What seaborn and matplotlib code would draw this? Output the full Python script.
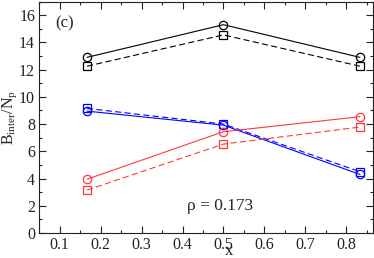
import numpy as np
import pandas as pd
import seaborn as sns
import matplotlib.pyplot as plt
from matplotlib.ticker import MultipleLocator

x = [1/6, 0.5, 5/6]
black_circ = [12.9, 15.3, 12.9]
black_sq = [12.25, 14.55, 12.25]
blue_circ = [8.95, 7.92, 4.3]
blue_sq = [9.15, 8.0, 4.5]
red_circ = [3.95, 7.44, 8.54]
red_sq = [3.15, 6.53, 7.78]

series = [
    (black_circ, 'black', 'o', '-'),
    (black_sq, 'black', 's', '--'),
    (blue_circ, 'blue', 'o', '-'),
    (blue_sq, 'blue', 's', '--'),
    (red_circ, '#ff3a3a', 'o', '-'),
    (red_sq, '#ff3a3a', 's', '--'),
]

sns.set_style('ticks')
plt.rcParams['font.family'] = ['Liberation Serif', 'DejaVu Serif']
plt.rcParams['mathtext.fontset'] = 'stix'

fig, ax = plt.subplots(figsize=(3.74, 2.58), dpi=100)
fig.subplots_adjust(left=0.105, right=0.997, top=0.994, bottom=0.097)

for vals, col, mk, ls in series:
    df = pd.DataFrame({'x': x, 'y': vals})
    kw = dict(dashes=(5.5, 3)) if ls == '--' else dict(linestyle='-')
    sns.lineplot(data=df, x='x', y='y', ax=ax, color=col, marker=mk,
                 linewidth=0.8, markersize=6 if mk == 'o' else 5.2,
                 markerfacecolor='none', markeredgecolor=col,
                 markeredgewidth=0.9, **kw)

ax.set_xlim(0.05, 0.865)
ax.set_ylim(0, 17)
ax.xaxis.set_major_locator(MultipleLocator(0.1))
ax.xaxis.set_minor_locator(MultipleLocator(0.05))
ax.yaxis.set_major_locator(MultipleLocator(2))
ax.yaxis.set_minor_locator(MultipleLocator(1))
ax.tick_params(which='both', direction='in', top=True, right=True,
               labelsize=11.5, width=0.8, colors='#222222')
ax.tick_params(which='major', length=5, pad=3)
ax.tick_params(which='minor', length=2.5)
for s in ax.spines.values():
    s.set_linewidth(0.8)
    s.set_color('#222222')

ax.set_xlabel('x', fontsize=12)
ax.xaxis.set_label_coords(0.569, -0.044)
ax.set_ylabel(r'$\mathregular{B_{inter}/N_p}$', fontsize=11.5)
ax.yaxis.set_label_coords(-0.061, 0.5)
ax.text(0.088, 15.1, '(c)', fontsize=12)
ax.text(0.411, 1.7, 'ρ = 0.173', fontsize=12.5)

fig.savefig('out.png')
